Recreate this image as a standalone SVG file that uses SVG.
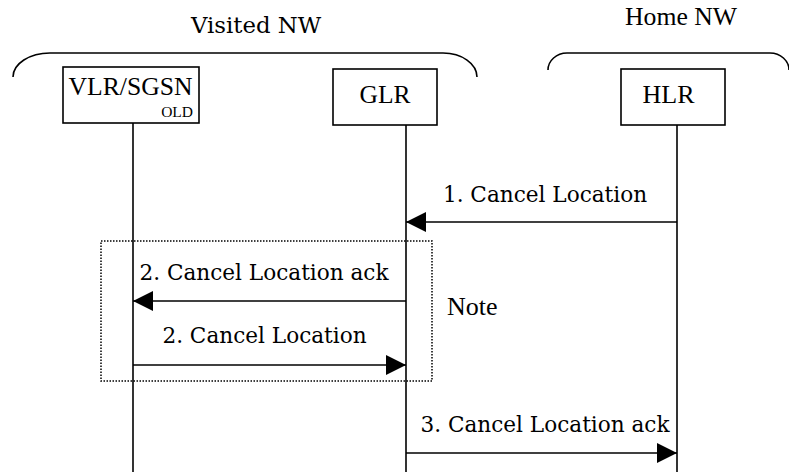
<svg xmlns="http://www.w3.org/2000/svg" width="789" height="472" viewBox="0 0 789 472">
<style>
.ln{stroke:#000;stroke-width:1.6;fill:none}
.box{fill:#fff;stroke:#000;stroke-width:1.6}
.t{font-family:"Liberation Serif","Times New Roman",serif;fill:#000}
.m{font-family:"DejaVu Serif","Liberation Serif",serif;font-size:21.6px;fill:#000}
.dot{fill:none;stroke:#000;stroke-width:1.5;stroke-dasharray:1.5 1.5}
</style>
<defs>
<marker id="ah" markerUnits="userSpaceOnUse" markerWidth="20" markerHeight="20" refX="20" refY="10" orient="auto">
<path d="M0,0 L20,10 L0,20 Z" fill="#000"/>
</marker>
</defs>
<g id="visited-nw">
<path class="ln" d="M13,77 A37,24 0 0 1 50,53 L443,53 A34,24 0 0 1 477,77"/>
<text class="m" x="256" y="33" text-anchor="middle" style="font-size:22.8px">Visited NW</text>
</g>
<g id="home-nw">
<path class="ln" d="M548,70 A19,17 0 0 1 567,53 L770,53 A19,17 0 0 1 789,70"/>
<text class="t" x="681" y="25" text-anchor="middle" font-size="25.7">Home NW</text>
</g>
<g id="lifelines">
<line class="ln" x1="133" y1="123" x2="133" y2="472"/>
<line class="ln" x1="406" y1="125" x2="406" y2="472"/>
<line class="ln" x1="677" y1="125" x2="677" y2="472"/>
</g>
<g id="vlr">
<rect class="box" x="63" y="67" width="136" height="56"/>
<text class="t" x="130.5" y="95" text-anchor="middle" font-size="25" textLength="124" lengthAdjust="spacingAndGlyphs">VLR/SGSN</text>
<text class="t" x="193" y="117" text-anchor="end" font-size="15.5">OLD</text>
</g>
<g id="glr">
<rect class="box" x="333" y="69" width="104" height="56"/>
<text class="t" x="385" y="103" text-anchor="middle" font-size="25.5">GLR</text>
</g>
<g id="hlr">
<rect class="box" x="621" y="69" width="104" height="56"/>
<text class="t" x="668.5" y="103" text-anchor="middle" font-size="26">HLR</text>
</g>
<g id="note">
<rect class="dot" x="101" y="241" width="331" height="140"/>
<text class="t" x="447" y="315" font-size="26">Note</text>
</g>
<g id="connectors">
<line class="ln" x1="677" y1="222" x2="406" y2="222" marker-end="url(#ah)"/>
<text class="m" x="545" y="202" text-anchor="middle">1. Cancel Location</text>
<line class="ln" x1="406" y1="301" x2="133" y2="301" marker-end="url(#ah)"/>
<text class="m" x="264" y="280" text-anchor="middle">2. Cancel Location ack</text>
<line class="ln" x1="133" y1="365" x2="406" y2="365" marker-end="url(#ah)"/>
<text class="m" x="264.5" y="343" text-anchor="middle">2. Cancel Location</text>
<line class="ln" x1="406" y1="453" x2="677" y2="453" marker-end="url(#ah)"/>
<text class="m" x="545" y="432" text-anchor="middle">3. Cancel Location ack</text>
</g>
</svg>
